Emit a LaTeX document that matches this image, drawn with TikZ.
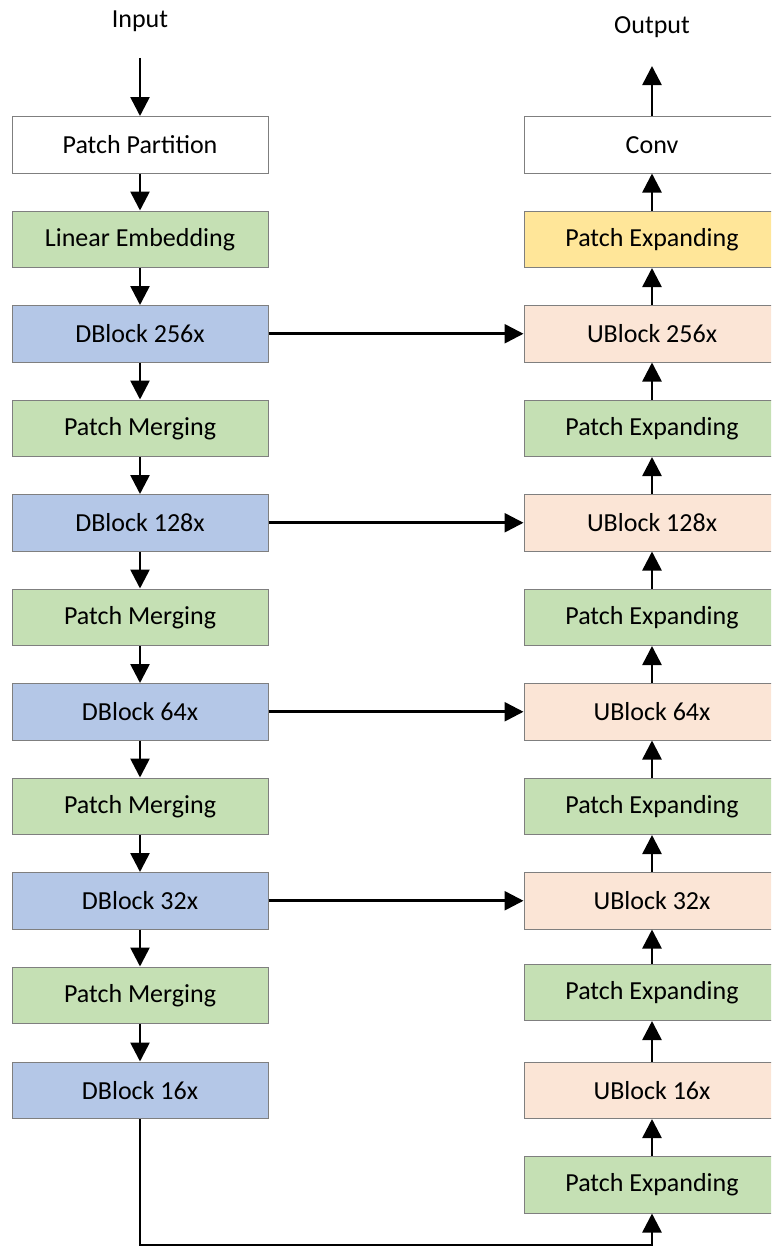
\documentclass[tikz,border=0pt]{standalone}
\usepackage{fontspec}
\setmainfont{Carlito}
\usetikzlibrary{arrows.meta}
\definecolor{dblue}{HTML}{B4C7E7}
\definecolor{lgreen}{HTML}{C5E0B4}
\definecolor{peach}{HTML}{FBE5D6}
\definecolor{lyellow}{HTML}{FFE699}
\definecolor{bordergray}{HTML}{7F7F7F}
\tikzset{
  blk/.style={draw=bordergray, line width=1pt, minimum width=256pt, minimum height=56.5pt, inner sep=0pt, font=\fontsize{26}{30}\selectfont, anchor=north},
  wbox/.style={blk, fill=white},
  gbox/.style={blk, fill=lgreen},
  bbox/.style={blk, fill=dblue},
  pbox/.style={blk, fill=peach},
  ybox/.style={blk, fill=lyellow},
  arr/.style={line width=2.6pt, -{Triangle[length=19pt,width=19pt]}},
  lbl/.style={font=\fontsize{26}{30}\selectfont, inner sep=0pt}
}
\begin{document}
\begin{tikzpicture}[x=1pt,y=-1pt]
\useasboundingbox (0,0) rectangle (771,1247);
\clip (0,0) rectangle (771,1247);
% left column
\node[lbl] (in) at (140,21) {Input};
\coordinate (inS) at (140,58);
\node[wbox] (pp) at (140,116) {Patch Partition};
\node[gbox] (le) at (140,210.5) {Linear Embedding};
\node[bbox] (d256) at (140,305) {DBlock 256x};
\node[gbox] (pm1) at (140,399.5) {Patch Merging};
\node[bbox] (d128) at (140,494) {DBlock 128x};
\node[gbox] (pm2) at (140,588.5) {Patch Merging};
\node[bbox] (d64) at (140,683) {DBlock 64x};
\node[gbox] (pm3) at (140,777.5) {Patch Merging};
\node[bbox] (d32) at (140,872) {DBlock 32x};
\node[gbox] (pm4) at (140,966.5) {Patch Merging};
\node[bbox] (d16) at (140,1061.5) {DBlock 16x};
% right column
\node[lbl] (out) at (652,27) {Output};
\coordinate (outE) at (652,66);
\node[wbox] (conv) at (652,116) {Conv};
\node[ybox] (pey) at (652,210.5) {Patch Expanding};
\node[pbox] (u256) at (652,305) {UBlock 256x};
\node[gbox] (pe1) at (652,399.5) {Patch Expanding};
\node[pbox] (u128) at (652,494) {UBlock 128x};
\node[gbox] (pe2) at (652,588.5) {Patch Expanding};
\node[pbox] (u64) at (652,683) {UBlock 64x};
\node[gbox] (pe3) at (652,777.5) {Patch Expanding};
\node[pbox] (u32) at (652,872) {UBlock 32x};
\node[gbox] (pe4) at (652,963.5) {Patch Expanding};
\node[pbox] (u16) at (652,1061.5) {UBlock 16x};
\node[gbox] (pe5) at (652,1156) {Patch Expanding};
\coordinate (bl) at (140,1245);
\coordinate (br) at (652,1245);
% left arrows
\draw[arr] (inS) -- (pp.north);
\draw[arr] (pp) -- (le);
\draw[arr] (le) -- (d256);
\draw[arr] (d256) -- (pm1);
\draw[arr] (pm1) -- (d128);
\draw[arr] (d128) -- (pm2);
\draw[arr] (pm2) -- (d64);
\draw[arr] (d64) -- (pm3);
\draw[arr] (pm3) -- (d32);
\draw[arr] (d32) -- (pm4);
\draw[arr] (pm4) -- (d16);
% right arrows
\draw[arr] (pe5) -- (u16);
\draw[arr] (u16) -- (pe4);
\draw[arr] (pe4) -- (u32);
\draw[arr] (u32) -- (pe3);
\draw[arr] (pe3) -- (u64);
\draw[arr] (u64) -- (pe2);
\draw[arr] (pe2) -- (u128);
\draw[arr] (u128) -- (pe1);
\draw[arr] (pe1) -- (u256);
\draw[arr] (u256) -- (pey);
\draw[arr] (pey) -- (conv);
\draw[arr] (conv.north) -- (outE);
% skip connections
\draw[arr] (d256.east) -- (u256.west);
\draw[arr] (d128.east) -- (u128.west);
\draw[arr] (d64.east) -- (u64.west);
\draw[arr] (d32.east) -- (u32.west);
\draw[arr] (d16.south) -- (bl) -- (br) -- (pe5.south);
\end{tikzpicture}
\end{document}
